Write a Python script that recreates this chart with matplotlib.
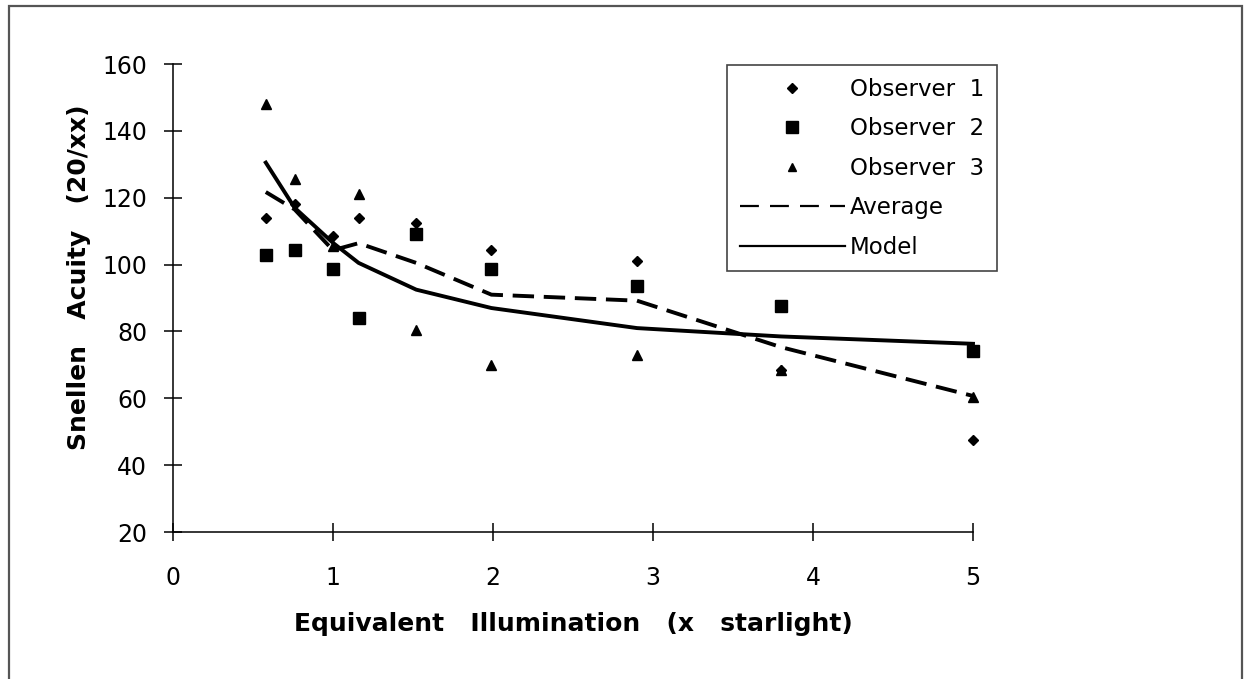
import numpy as np
import matplotlib
matplotlib.use('Agg')
from matplotlib import pyplot as plt
from matplotlib.lines import Line2D
from matplotlib.patches import Rectangle

# illumination levels (x starlight)
illum = [0.58, 0.76, 1.0, 1.16, 1.52, 1.99, 2.9, 3.8, 5.0]
# snellen acuity (20/xx) per observer
observer1 = [114.0, 118.0, 108.5, 114.0, 112.5, 104.5, 101.0, 68.5, 47.5]
observer2 = [103.0, 104.5, 98.7, 84.0, 109.0, 98.7, 93.5, 87.5, 74.0]
observer3 = [148.0, 125.5, 105.5, 121.0, 80.5, 70.0, 73.0, 68.5, 60.5]
average = [121.7, 116.5, 104.3, 106.4, 100.5, 91.0, 89.2, 75.3, 60.7]
model = [130.5, 117.0, 106.5, 100.5, 92.5, 87.0, 81.0, 78.5, 76.3]

xticks = [0, 1, 2, 3, 4, 5]
yticks = [20, 40, 60, 80, 100, 120, 140, 160]

W, H = 1244, 679
fig = plt.figure(figsize=(W / 100, H / 100), dpi=100)
fig.patch.set_facecolor('white')

# outer frame around the whole chart
fig.patches.append(Rectangle((9 / W, -0.02), (1242 - 9) / W, 1.02 - 6 / H,
                             transform=fig.transFigure, fill=False,
                             edgecolor='#555555', lw=1.6))

ax = fig.add_axes([173 / W, 1 - 532 / H, 800 / W, 468 / H])

# markers first, lines on top
ax.plot(illum, observer1, ls='none', marker='D', ms=5, color='k', clip_on=False)
ax.plot(illum, observer2, ls='none', marker='s', ms=8, color='k', clip_on=False)
ax.plot(illum, observer3, ls='none', marker='^', ms=6.5, color='k', clip_on=False)
ax.plot(illum, average, color='k', lw=2.8, dashes=(5.5, 2.5), clip_on=False)
ax.plot(illum, model, color='k', lw=2.8, clip_on=False)

ax.set_xlim(0, 5)
ax.set_ylim(20, 160)
ax.set_xticks(xticks)
ax.set_yticks(yticks)

for s in ['top', 'right']:
    ax.spines[s].set_visible(False)
for s in ['left', 'bottom']:
    ax.spines[s].set_linewidth(1.1)

ax.tick_params(direction='inout', length=13, width=1.1, labelsize=17, colors='k')
ax.tick_params(axis='x', pad=18)
ax.tick_params(axis='y', pad=12)

ax.set_xlabel('Equivalent   Illumination   (x   starlight)', fontsize=18, fontweight='bold')
ax.set_ylabel('Snellen   Acuity   (20/xx)', fontsize=18, fontweight='bold')
ax.xaxis.set_label_coords(0.5, -0.172)
ax.yaxis.set_label_coords(-0.1025, 0.545)

handles = [
    Line2D([], [], ls='none', marker='D', ms=5, color='k'),
    Line2D([], [], ls='none', marker='s', ms=8, color='k'),
    Line2D([], [], ls='none', marker='^', ms=6, color='k'),
    Line2D([], [], color='k', lw=1.6, dashes=(8.5, 5)),
    Line2D([], [], color='k', lw=1.6),
]
labels = ['Observer  1', 'Observer  2', 'Observer  3', 'Average', 'Model']
leg = ax.legend(handles, labels, loc='upper left',
                bbox_to_anchor=(727 / W, 1 - 65 / H), bbox_transform=fig.transFigure,
                borderaxespad=0, fontsize=16.5, handlelength=4.6, handletextpad=0.22,
                borderpad=0.55, labelspacing=0.72, numpoints=1,
                fancybox=False, framealpha=1, edgecolor='#444444')
leg.get_frame().set_linewidth(1.2)

fig.savefig('out.png', dpi=100)
